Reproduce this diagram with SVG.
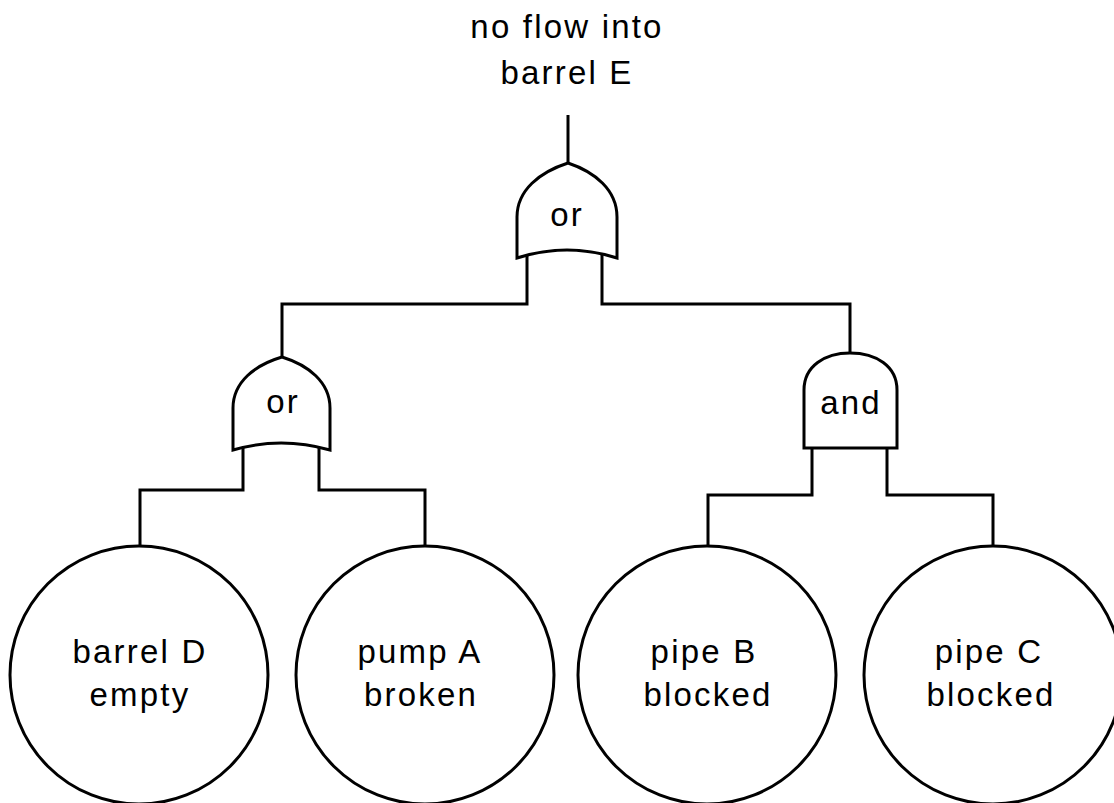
<svg xmlns="http://www.w3.org/2000/svg" width="1114" height="803" viewBox="0 0 1114 803">
  <style>
    .ln { fill: none; stroke: #000; stroke-width: 3; stroke-linejoin: miter; }
    .shape { fill: #fff; stroke: #000; stroke-width: 3; }
    .lbl { font-family: "Liberation Sans", Arial, sans-serif; font-size: 33px; letter-spacing: 2.2px; text-anchor: middle; fill: #000; }
  </style>
  <rect width="1114" height="803" fill="#fff"/>

  <!-- wiring between events and gates -->
  <g id="connectors">
    <path class="ln" d="M568,115 V163"/>
    <path class="ln" d="M527,252 V304 H282 V357"/>
    <path class="ln" d="M602,252 V304 H850 V353"/>
    <path class="ln" d="M243,446 V490 H140 V546"/>
    <path class="ln" d="M319,446 V490 H425 V546"/>
    <path class="ln" d="M812,448 V495 H708 V547"/>
    <path class="ln" d="M887,448 V495 H993 V547"/>
  </g>

  <!-- top event -->
  <g id="top-event">
    <text class="lbl" x="567" y="38">no flow into</text>
    <text class="lbl" x="567" y="84">barrel E</text>
  </g>

  <!-- OR gate under the top event -->
  <g id="gate-or-top">
    <path class="shape" d="M517,258 V217 C517,190 540,172 568,163 C595,172 617,190 617,217 V258 Q567,242 517,258 Z"/>
    <text class="lbl" x="567" y="226">or</text>
  </g>

  <!-- OR gate: barrel D / pump A -->
  <g id="gate-or-left">
    <path class="shape" d="M233,450 V408 C233,382 255,365 282,357 C308,365 330,382 330,408 V450 Q281,436 233,450 Z"/>
    <text class="lbl" x="283" y="413">or</text>
  </g>

  <!-- AND gate: pipe B / pipe C -->
  <g id="gate-and">
    <path class="shape" d="M804,448 V390 C804,366 825,353 850,353 C876,353 897,366 897,390 V448 Z"/>
    <text class="lbl" x="851" y="414">and</text>
  </g>

  <!-- basic events -->
  <g id="event-barrel-d">
    <circle class="shape" cx="139" cy="675" r="129"/>
    <text class="lbl" x="140" y="663">barrel D</text>
    <text class="lbl" x="140" y="706">empty</text>
  </g>
  <g id="event-pump-a">
    <circle class="shape" cx="425" cy="675" r="129"/>
    <text class="lbl" x="420" y="663">pump A</text>
    <text class="lbl" x="421" y="706">broken</text>
  </g>
  <g id="event-pipe-b">
    <circle class="shape" cx="707" cy="675" r="129"/>
    <text class="lbl" x="704" y="663">pipe B</text>
    <text class="lbl" x="708" y="706">blocked</text>
  </g>
  <g id="event-pipe-c">
    <circle class="shape" cx="993" cy="675" r="129"/>
    <text class="lbl" x="989" y="663">pipe C</text>
    <text class="lbl" x="991" y="706">blocked</text>
  </g>
</svg>
